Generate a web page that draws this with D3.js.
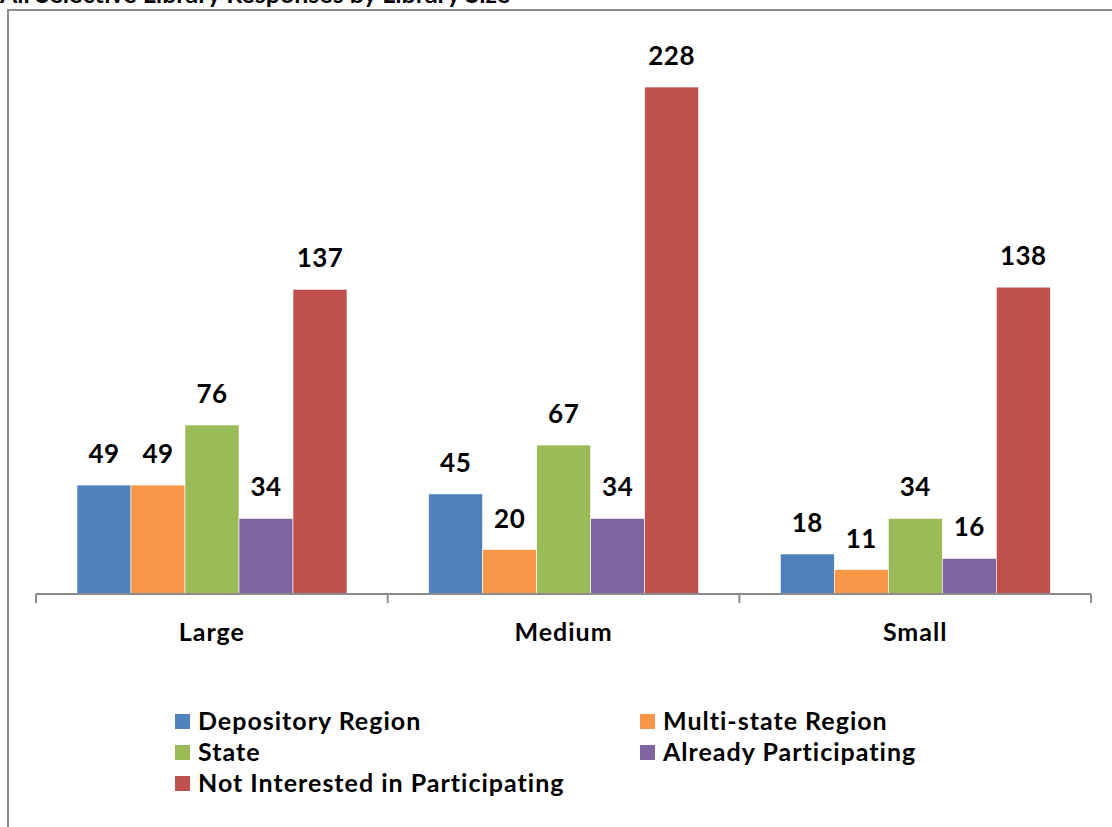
<!DOCTYPE html>
<html><head><meta charset="utf-8">
<script src="https://cdn.jsdelivr.net/npm/d3@7"></script>
<style>
html,body{margin:0;padding:0;background:#fff;overflow:hidden;}
text{font-family:Lato,"Open Sans",sans-serif;font-weight:bold;fill:#000;}
</style></head>
<body>
<svg id="chart" width="1112" height="827"></svg>
<script>
const title = "All Selective Library Responses by Library Size";
const categories = ["Large", "Medium", "Small"];
const seriesNames = ["Depository Region", "Multi-state Region", "State", "Already Participating", "Not Interested in Participating"];
const depositoryRegion = [49, 45, 18];
const multiStateRegion = [49, 20, 11];
const stateValues = [76, 67, 34];
const alreadyParticipating = [34, 34, 16];
const notInterested = [137, 228, 138];
const colors = ["#4F81BD", "#F79646", "#9BBB59", "#8064A2", "#C0504D"];

const series = [depositoryRegion, multiStateRegion, stateValues, alreadyParticipating, notInterested];
const svg = d3.select("#chart");

// title (cropped at top)
svg.append("text").attr("x", 0).attr("y", 3).attr("font-size", 25).text(title);

// frame
svg.append("rect").attr("x", 8).attr("y", 10).attr("width", 1200).attr("height", 900)
  .attr("fill", "none").attr("stroke", "#8c8c8c").attr("stroke-width", 2);

const x0 = d3.scaleBand().domain(categories).range([36, 1091]).paddingInner(0).paddingOuter(0);
const x1 = d3.scaleBand().domain(d3.range(seriesNames.length)).range([41, 311]);
const y = d3.scaleLinear().domain([0, 250]).range([594, 38.1]);

const groups = svg.append("g").selectAll("g").data(categories).join("g")
  .attr("transform", d => `translate(${x0(d)},0)`);

groups.each(function(cat, ci) {
  const g = d3.select(this);
  series.forEach((arr, si) => {
    const v = arr[ci];
    g.append("rect").attr("x", x1(si)).attr("y", y(v))
      .attr("width", x1.bandwidth()).attr("height", y(0) - y(v))
      .attr("fill", colors[si]).attr("stroke", "#fff").attr("stroke-width", 0.6);
    g.append("text").attr("x", x1(si) + x1.bandwidth() / 2).attr("y", y(v) - 22)
      .attr("text-anchor", "middle").attr("font-size", 26).attr("letter-spacing", 0.5).text(v);
  });
});

// axis
const axis = d3.axisBottom(x0).tickSize(9).tickFormat("");
const ag = svg.append("g").attr("transform", "translate(0,594)").call(axis);
ag.selectAll("line,path").attr("stroke", "#8c8c8c").attr("stroke-width", 2);
ag.selectAll(".tick").remove();
ag.select(".domain").attr("d", "M36,0H1091");
const bounds = categories.map(c => x0(c)).concat([x0.range()[1]]);
ag.selectAll("line.b").data(bounds).join("line").attr("class", "b")
  .attr("x1", d => d).attr("x2", d => d).attr("y1", 0).attr("y2", 9)
  .attr("stroke", "#8c8c8c").attr("stroke-width", 2);
svg.append("g").selectAll("text").data(categories).join("text")
  .attr("x", d => x0(d) + x0.bandwidth() / 2).attr("y", 641)
  .attr("text-anchor", "middle").attr("font-size", 25).attr("letter-spacing", 1).text(d => d);

// legend
const legendPos = [[175, 722], [640, 722], [175, 753], [640, 753], [175, 784]];
const lg = svg.append("g").selectAll("g").data(seriesNames).join("g")
  .attr("transform", (d, i) => `translate(${legendPos[i][0]},${legendPos[i][1]})`);
lg.append("rect").attr("x", 0).attr("y", -8).attr("width", 15).attr("height", 15)
  .attr("fill", (d, i) => colors[i]);
lg.append("text").attr("x", 23).attr("y", 8).attr("font-size", 25).attr("letter-spacing", 1).text(d => d);
</script>
</body></html>
